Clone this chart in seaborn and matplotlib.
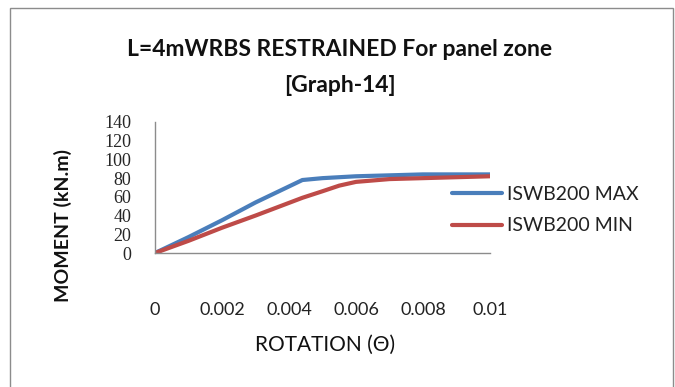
import matplotlib
matplotlib.use("Agg")
import matplotlib.pyplot as plt
import seaborn as sns
import pandas as pd
from matplotlib.patches import Rectangle

# Moment-rotation response, panel zone, L = 4 m WRBS restrained
rotation = [0, 0.001, 0.002, 0.003, 0.0044, 0.005, 0.0055, 0.006, 0.007, 0.008, 0.009, 0.01]
moment_max = [0, 17, 35, 54, 78, 80, 81, 82, 83, 84, 84, 84]
moment_min = [0, 13, 27, 40, 59, 66, 72, 76, 79, 80, 81, 82]
series_names = ["ISWB200 MAX", "ISWB200 MIN"]
y_ticks = [0, 20, 40, 60, 80, 100, 120, 140]
x_ticks = [0, 0.002, 0.004, 0.006, 0.008, 0.01]
x_tick_labels = ["0", "0.002", "0.004", "0.006", "0.008", "0.01"]

df = pd.concat([
    pd.DataFrame({"rotation": rotation, "moment": moment_max, "series": series_names[0]}),
    pd.DataFrame({"rotation": rotation, "moment": moment_min, "series": series_names[1]}),
])

sns.set_theme(style="white")
plt.rcParams["font.family"] = ["Lato", "DejaVu Sans"]

fig = plt.figure(figsize=(6.75, 3.87), dpi=100)
fig.patch.set_facecolor("white")
# chart frame
fig.patches.append(Rectangle((10 / 675, -0.05), 663 / 675, 1 - 8 / 387 + 0.05,
                             transform=fig.transFigure, fill=False,
                             edgecolor="#8c8c8c", linewidth=1.0))

ax = fig.add_axes([155 / 675, 1 - 253 / 387, 335 / 675, 131 / 387])
palette = {series_names[0]: "#4A7EBB", series_names[1]: "#BE4B48"}
sns.lineplot(data=df, x="rotation", y="moment", hue="series", palette=palette,
             linewidth=3.0, ax=ax, legend=False, sort=False)

ax.set_xlim(0, 0.01)
ax.set_ylim(0, 140)
ax.set_yticks(y_ticks)
ax.set_yticklabels([str(v) for v in y_ticks], family=["Liberation Serif", "DejaVu Serif"], fontsize=13)
ax.set_xticks(x_ticks)
ax.set_xticklabels(x_tick_labels, fontsize=13, color="#222222")
ax.tick_params(axis="x", length=0, pad=35)
ax.tick_params(axis="y", length=0, pad=17)
for side in ("top", "right"):
    ax.spines[side].set_visible(False)
for side in ("left", "bottom"):
    ax.spines[side].set_color("#8c8c8c")
    ax.spines[side].set_linewidth(1.0)
ax.set_xlabel("")
ax.set_ylabel("")
ax.patch.set_alpha(0)

fig.text(63 / 675, 1 - 226 / 387, "MOMENT (kN.m)", rotation=90, ha="center", va="center",
         fontsize=14, fontweight="bold", color="#111111")
fig.text(325 / 675, 1 - 345 / 387, "ROTATION (\u0398)", ha="center", va="center",
         fontsize=15, color="#111111")
fig.text(340 / 675, 1 - 50 / 387, "L=4mWRBS RESTRAINED For panel zone", ha="center", va="center",
         fontsize=16.5, fontweight="bold", color="#111111")
fig.text(340 / 675, 1 - 86 / 387, "[Graph-14]", ha="center", va="center",
         fontsize=16.5, fontweight="bold", color="#111111")

handles = [plt.Line2D([], [], color=palette[n], linewidth=3.0) for n in series_names]
fig.legend(handles, series_names, loc="upper left", bbox_to_anchor=(444 / 675, 1 - 178 / 387),
           frameon=False, fontsize=14, handlelength=2.6, handletextpad=0.25,
           labelspacing=0.75, borderaxespad=0, labelcolor="#222222")

fig.savefig("out.png", dpi=100, facecolor="white")
